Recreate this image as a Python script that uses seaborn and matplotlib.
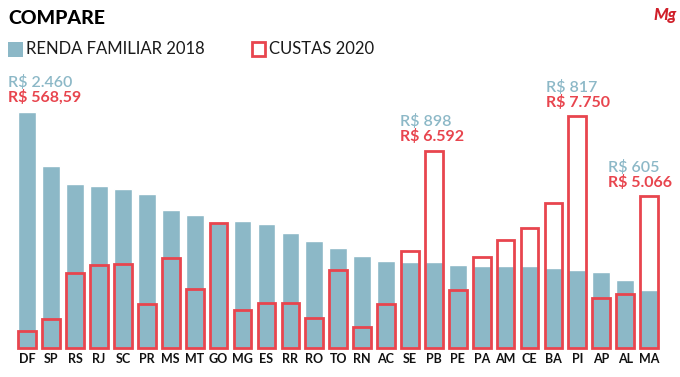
import matplotlib
matplotlib.use("Agg")
import matplotlib.pyplot as plt
from matplotlib.patches import Rectangle
import seaborn as sns
import pandas as pd

states = ["DF", "SP", "RS", "RJ", "SC", "PR", "MS", "MT", "GO", "MG", "ES", "RR", "RO", "TO",
          "RN", "AC", "SE", "PB", "PE", "PA", "AM", "CE", "BA", "PI", "AP", "AL", "MA"]
renda_2018 = [2460, 1899, 1705, 1691, 1659, 1607, 1438, 1386, 1316, 1320, 1295, 1202, 1112, 1043,
              957, 908, 900, 898, 869, 859, 853, 853, 835, 817, 790, 710, 605]
custas_2020 = [568.59, 983, 2501, 2790, 2800, 1482, 3010, 1980, 4196, 1262, 1515, 1515, 997, 2601,
               708, 1482, 3232, 6592, 1947, 3056, 3608, 4020, 4837, 7750, 1671, 1804, 5066]
highlights = {"DF": ("R$ 2.460", "R$ 568,59"), "PB": ("R$ 898", "R$ 6.592"),
              "PI": ("R$ 817", "R$ 7.750"), "MA": ("R$ 605", "R$ 5.066")}
legend_labels = ["RENDA FAMILIAR 2018", "CUSTAS 2020"]
title = "COMPARE"

BLUE = "#8cb8c7"
RED = "#e8454e"
FONT = ["Lato", "DejaVu Sans"]

sns.set_theme(style="white")
plt.rcParams["font.family"] = FONT

df = pd.DataFrame({"estado": states, "renda": renda_2018, "custas": custas_2020})

W, H = 680, 377
fig = plt.figure(figsize=(W / 100, H / 100), dpi=100)
left, right = 15.35 / W, 661 / W
bottom, top = (H - 348.3) / H, (H - 100) / H
ax = fig.add_axes([left, bottom, right - left, top - bottom])
ax2 = ax.twinx()

sns.barplot(data=df, x="estado", y="renda", color=BLUE, saturation=1, width=0.74, ax=ax)
sns.barplot(data=df, x="estado", y="custas", color=RED, fill=False, linewidth=2.0,
            saturation=1, width=0.74, ax=ax2)
for p in ax2.patches:
    p.set_clip_on(False)
    p.set_edgecolor(RED)

ax.set_ylim(0, 2581)
ax2.set_ylim(0, 8284)
ax.set_xlim(-0.5, len(states) - 0.5)
ax2.set_xlim(-0.5, len(states) - 0.5)
for a in (ax, ax2):
    for s in a.spines.values():
        s.set_visible(False)
    a.set_ylabel("")
    a.set_xlabel("")
    a.set_yticks([])
ax.tick_params(axis="x", length=0, pad=3.5, labelsize=9, labelcolor="#111111")
for lbl in ax.get_xticklabels():
    lbl.set_fontweight("bold")
ax2.tick_params(axis="x", length=0, labelbottom=False)

# annotations
offsets = {"DF": -0.81, "PB": -1.43, "PI": -1.32, "MA": -1.7}
for st, (tb, tr) in highlights.items():
    i = states.index(st)
    r = renda_2018[i]
    c = custas_2020[i]
    yfrac = max(r / 2581, c / 8284)
    x = i + offsets[st]
    ax2.annotate(tr, xy=(x, yfrac), xycoords=("data", "axes fraction"),
                 xytext=(0, 14), textcoords="offset pixels", ha="left", va="center",
                 color=RED, fontsize=11.5, fontweight="bold", annotation_clip=False)
    ax2.annotate(tb, xy=(x, yfrac), xycoords=("data", "axes fraction"),
                 xytext=(0, 29), textcoords="offset pixels", ha="left", va="center",
                 color=BLUE, fontsize=11.5, fontweight="semibold", annotation_clip=False)

# title and legend
fig.text(8 / W, 1 - 18 / H, title, ha="left", va="center", fontsize=14,
         fontweight="black", color="black")
fig.text(1 - 3 / W, 1 - 15 / H, "Mg", ha="right", va="center", fontsize=12,
         fontweight="black", style="italic", color="#d0202a")
fig.patches.append(Rectangle((8 / W, 1 - 57 / H), 14.5 / W, 15 / H, transform=fig.transFigure,
                             facecolor=BLUE, edgecolor="none"))
fig.text(26.5 / W, 1 - 49.5 / H, legend_labels[0], ha="left", va="center", fontsize=12,
         fontweight="normal", color="#1a1a1a")
fig.patches.append(Rectangle((251.5 / W, 1 - 56 / H), 13.5 / W, 13.5 / H, transform=fig.transFigure,
                             facecolor="none", edgecolor=RED, linewidth=2))
fig.text(269 / W, 1 - 49.5 / H, legend_labels[1], ha="left", va="center", fontsize=12,
         fontweight="normal", color="#1a1a1a")

fig.savefig("out.png", dpi=100, facecolor="white")
